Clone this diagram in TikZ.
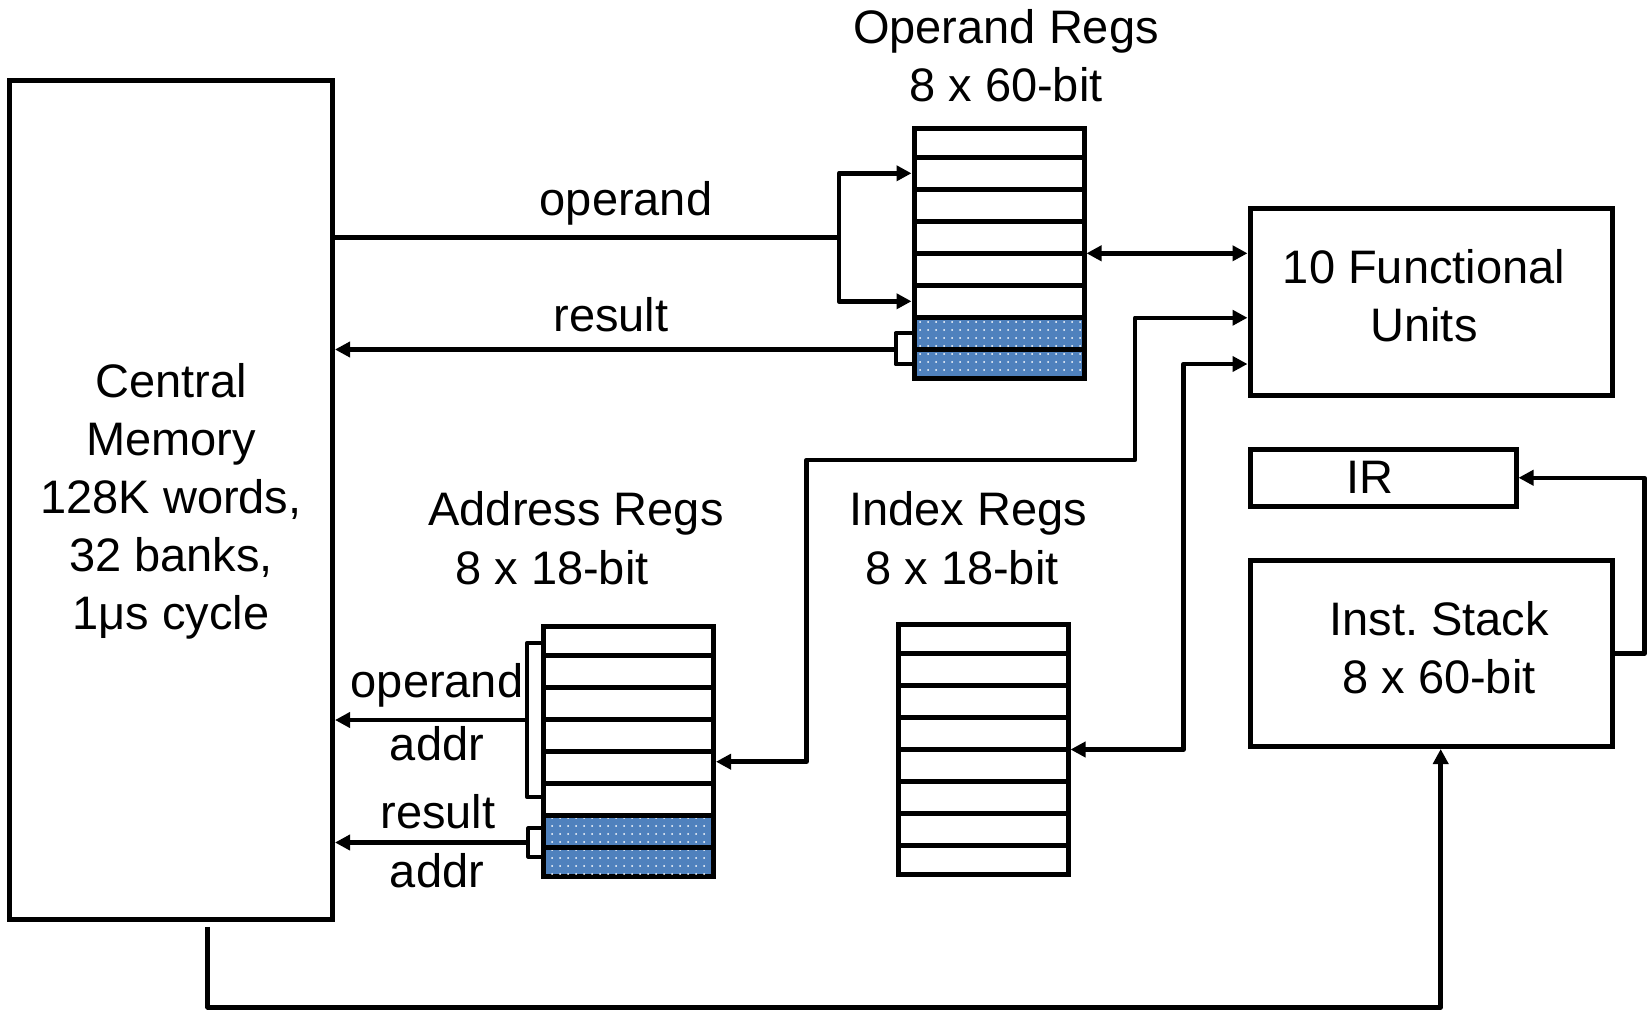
\documentclass[tikz,border=0pt]{standalone}
\usepackage{fontspec}
\setmainfont{Liberation Sans}
\usetikzlibrary{arrows.meta,calc,patterns.meta}
\definecolor{regblue}{RGB}{79,129,189}
\frenchspacing
\begin{document}
\begin{tikzpicture}[x=1pt,y=-1pt,
  txt/.style={font=\fontsize{47}{58}\selectfont, inner sep=0pt, align=center},
  box/.style={draw, line width=5pt, inner sep=0pt},
  regfile/.style={box, minimum width=170pt, minimum height=250pt},
  sepline/.style={line width=5pt},
  conn/.style={line width=4.5pt, line join=round},
  brk/.style={line width=4pt, line join=round},
  arr/.style={conn, -{Triangle[length=15pt,width=15pt]}},
  darr/.style={conn, {Triangle[length=15pt,width=15pt]}-{Triangle[length=15pt,width=15pt]}},
  shade/.style={pattern={Dots[distance=8pt,radius=1pt]}, pattern color=white}
]
\useasboundingbox (0,0) rectangle (1647,1010);

% boxes
\node[box, minimum width=323pt, minimum height=838.5pt] (mem) at (171,500) {};
\node[regfile] (opregs) at (999,253.3) {};
\node[regfile] (addrregs) at (628.5,751.7) {};
\node[regfile] (idxregs) at (983,749.5) {};
\node[box, minimum width=362.5pt, minimum height=186.5pt] (fu) at (1431.25,301.75) {};
\node[box, minimum width=266pt, minimum height=57.5pt] (ir) at (1383,477.75) {};
\node[box, minimum width=362pt, minimum height=186pt] (stack) at (1431,653.5) {};

% shaded rows
\foreach \r in {opregs,addrregs}{
  \fill[regblue] ($(\r.center)+(-82.5,64)$) rectangle ($(\r.center)+(82.5,122.5)$);
  \fill[shade] ($(\r.center)+(-82.5,64)$) rectangle ($(\r.center)+(82.5,122.5)$);
}
% row separators
\foreach \r in {opregs,addrregs,idxregs}{
  \foreach \k in {-3,...,3}{
    \draw[sepline] ($(\r.center)+(-85,\k*32)$) -- ($(\r.center)+(85,\k*32)$);
  }
}

% texts
\node[txt] (memtxt) at (171,501) {Central\\Memory\\128K words,\\32 banks,\\1μs cycle};
\node[txt] (optitle) at (1006,56) {Operand Regs\\8 x 60-bit};
\node[txt] (oplbl) at (626,203) {operand};
\node[txt] (reslbl) at (611,315) {result};
\node[txt] (futxt) at (1424,296) {10 Functional\\Units};
\node[txt] (irtxt) at (1370,477) {IR};
\node[txt] (sttxt) at (1439,648) {Inst. Stack\\8 x 60-bit};
\node[txt] (adtitle1) at (576,513) {Address Regs};
\node[txt] (adtitle2) at (552,568) {8 x 18-bit};
\node[txt] (ixtitle1) at (968,513) {Index Regs};
\node[txt] (ixtitle2) at (962,568) {8 x 18-bit};
\node[txt] (aolbl) at (437,685) {operand};
\node[txt] (aalbl) at (437,744) {addr};
\node[txt] (arlbl) at (438,812) {result};
\node[txt] (ar2lbl) at (437,871) {addr};

% operand path memory -> operand regs
\coordinate (opfork) at (839,237.7);
\coordinate (oprow2) at ($(opregs.center)+(0,-80)$);
\coordinate (oprow6) at ($(opregs.center)+(0,48)$);
\draw[conn] (mem.east |- opfork) -- (opfork);
\draw[arr] (opfork) |- (opregs.west |- oprow2);
\draw[arr] (opfork) |- (opregs.west |- oprow6);

% result path operand regs -> memory
\coordinate (resbr) at (895.5,349.5);
\coordinate (oprow7) at ($(opregs.center)+(0,80)$);
\coordinate (oprow8) at ($(opregs.center)+(0,111)$);
\draw[brk] (opregs.west |- oprow7) -| (resbr) |- (opregs.west |- oprow8);
\draw[arr] (resbr) -- (mem.east |- resbr);

% operand regs <-> functional units
\draw[darr] (opregs.east) -- (fu.west |- opregs.east);

% address regs <-> functional units
\coordinate (fa1) at (1135,460);
\coordinate (fa2) at (806.7,460);
\coordinate (fuin1) at ($(fu.west)+(0,16)$);
\coordinate (fuin2) at ($(fu.west)+(0,62.25)$);
\coordinate (adin) at ($(addrregs.east)+(0,10)$);
\draw[darr] (adin) -| (fa2) -- (fa1) |- (fuin1);

% index regs <-> functional units
\coordinate (fi1) at (1183.5,364);
\draw[darr] (idxregs.east) -| (fi1) -- (fuin2);

% operand addr bracket
\coordinate (aob) at (526.7,720);
\coordinate (ar1) at ($(addrregs.center)+(0,-108.4)$);
\coordinate (ar6) at ($(addrregs.center)+(0,45)$);
\draw[brk] (addrregs.west |- ar1) -| (aob) |- (addrregs.west |- ar6);
\draw[arr] (aob) -- (mem.east |- aob);

% result addr bracket
\coordinate (arb) at (528.3,842.5);
\coordinate (ar7) at ($(addrregs.center)+(0,76.6)$);
\coordinate (ar8) at ($(addrregs.center)+(0,105)$);
\draw[brk] (addrregs.west |- ar7) -| (arb) |- (addrregs.west |- ar8);
\draw[arr] (arb) -- (mem.east |- arb);

% inst stack -> IR
\coordinate (fb) at (1644.5,477.75);
\draw[arr] (stack.east) -| (fb) -- (ir.east);

% memory -> inst stack
\coordinate (bstart) at ($(mem.south west)+(200.7,5)$);
\coordinate (bcorner) at (1440.7,1007.3);
\draw[arr] (bstart) |- (bcorner) -- (stack.south -| bcorner);
\end{tikzpicture}
\end{document}
